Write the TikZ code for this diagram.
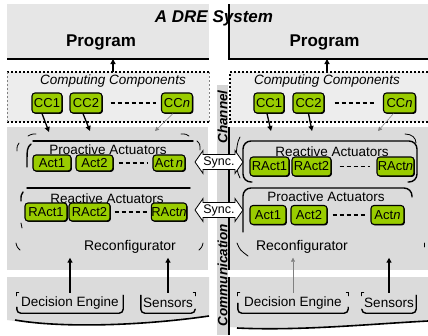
\documentclass[tikz,border=0pt]{standalone}
\usepackage{fontspec}
\setmainfont{Liberation Sans}
\usetikzlibrary{arrows.meta,shapes.arrows,shadows}
\definecolor{progfill}{HTML}{E6E6E6}
\definecolor{ccfill}{HTML}{EDEDED}
\definecolor{lowfill}{HTML}{DBDBDB}
\definecolor{boxgreen}{HTML}{99CC00}
\definecolor{chanfill}{HTML}{D6D6D6}
\newcommand\fsz[1]{\fontsize{#1}{#1}\selectfont}
\begin{document}
\begin{tikzpicture}[x=1pt,y=-1pt,
  panel/.style={anchor=north west, inner sep=0pt, outer sep=0pt, draw=none},
  gbox/.style={draw=black, line width=1.1pt, fill=boxgreen, rounded corners=3pt, inner sep=0pt, font=\fsz{13},
    drop shadow={shadow xshift=0.9pt, shadow yshift=-0.9pt, fill=black, opacity=1}},
  lbl/.style={inner sep=0pt, font=\fsz{13.5}},
  arr/.style={line width=1.3pt, -{Triangle[width=5pt,length=5pt]}},
  thinarr/.style={line width=0.5pt, draw=gray, -{Triangle[width=4pt,length=4pt]}},
  dotline/.style={line width=1.6pt, dash pattern=on 2pt off 2pt},
  thindash/.style={line width=0.5pt, draw=gray, dash pattern=on 2pt off 2pt},
  gapline/.style={line width=1.4pt, dash pattern=on 4pt off 3pt},
  frame/.style={line width=1.4pt, line cap=round},
  frag/.style={line width=0.8pt, line cap=round},
  sync/.style={double arrow, draw=black, line width=0.8pt, fill=white, double arrow tip angle=110,
    double arrow head extend=4pt, inner sep=1.5pt, minimum height=48pt, font=\fsz{12.5}},
  side/.style={rotate=90, font=\fsz{13.5}\bfseries\itshape, inner sep=0pt}
]
\useasboundingbox (0,0) rectangle (428,335);

% ---------- Program boxes
\node[panel, fill=progfill, minimum width=202pt, minimum height=55pt] (progL) at (7,4) {};
\node[panel, fill=progfill, minimum width=199pt, minimum height=55pt] (progR) at (229,4) {};
\draw[line width=1.6pt] (progL.south west) -- (progL.south east);
\draw[line width=1.6pt] (progR.north west) -- (progR.south west) -- (progR.south east);
\node[font=\fsz{17}\bfseries, inner sep=0pt] (pgL) at (101,42) {Program};
\node[font=\fsz{17}\bfseries, inner sep=0pt] (pgR) at (324.5,42) {Program};
\node[font=\fsz{17}\bfseries\itshape, inner sep=0pt] (title) at (214,18) {A DRE System};

% ---------- Computing component panels
\node[panel, fill=ccfill, minimum width=202pt, minimum height=50pt] (ccpL) at (7,72) {};
\node[panel, fill=ccfill, minimum width=198pt, minimum height=50pt] (ccpR) at (230,72) {};
\draw[dotline] (ccpL.north west) -- (ccpL.north east);
\draw[dotline] (ccpL.south west) -- (ccpL.south east);
\draw[thindash] (ccpL.north west) -- (ccpL.south west);
\draw[thindash] (ccpL.north east) -- (ccpL.south east);
\draw[dotline] (ccpR.north east) -- (ccpR.north west) -- (ccpR.south west) -- (ccpR.south east);
\node[lbl, font=\fsz{13.5}\itshape] (cctL) at (113,81) {Computing Components};
\node[lbl, font=\fsz{13.5}\itshape] (cctR) at (327,81) {Computing Components};
\draw[arr] (ccpL.north -| cctL) -- (progL.south -| cctL);
\draw[arr] (ccpR.north -| cctR) -- (progR.south -| cctR);

% ---------- lower panels
\node[panel, fill=lowfill, minimum width=201pt, minimum height=143pt] (lowL) at (7,127) {};
\node[panel, fill=lowfill, minimum width=199pt, minimum height=143pt] (lowR) at (229,127) {};
\draw[line width=1.6pt] (lowR.north west) -- (lowR.south west);

% bottom panels with wavy edge
\fill[lowfill] (7,277) -- (209,277) -- (209,316) .. controls (140,326) and (60,328) .. (7,320) -- cycle;
\draw[line width=1.6pt] (15,320) .. controls (60,328) and (140,326) .. (209,316);
\fill[lowfill] (229,277) -- (428,277) -- (428,321) .. controls (370,324) and (300,332) .. (229,327) -- cycle;
\draw[line width=1.6pt] (237,328) .. controls (300,331) and (370,324) .. (428,321);
\draw[line width=1.6pt] (229,277) -- (229,335);

% ---------- channel strip
\fill[chanfill] (217,85) rectangle (228,335);
\node[side] (chan) at (222.5,117) {Channel};
\node[side] (comm) at (222.5,275) {Communication};

% ---------- CC boxes
\node[gbox, minimum width=30pt, minimum height=20pt] (cc1L) at (47,103) {CC1};
\node[gbox, minimum width=32pt, minimum height=20pt] (cc2L) at (86,103) {CC2};
\node[gbox, minimum width=31pt, minimum height=20pt] (ccnL) at (177,103) {CC\textit{n}};
\draw[gapline] ([xshift=8pt]cc2L.east) -- ([xshift=-5pt]ccnL.west);
\node[gbox, minimum width=30pt, minimum height=20pt] (cc1R) at (269,103) {CC1};
\node[gbox, minimum width=31pt, minimum height=20pt] (cc2R) at (308.5,103) {CC2};
\node[gbox, minimum width=32pt, minimum height=20pt] (ccnR) at (399.5,103) {CC\textit{n}};
\draw[gapline] ([xshift=10pt]cc2R.east) -- ([xshift=-6.5pt]ccnR.west);

% ---------- outer frame fragments
\draw[frag] (19,143) .. controls (17,146) .. (17,151);
\draw[frag] (28,136) .. controls (32,134) .. (36,134);
\draw[frag] (181,134) .. controls (186,134) .. (189,136);
\draw[frag] (197,141) .. controls (200,144) .. (200,150);
\draw[frag] (16,243) .. controls (17,247) .. (20,250);
\draw[frag] (203,243) .. controls (202,247) .. (199,250);
\draw[frag] (240,137) .. controls (235,145) and (235,170) .. (240,178);
\draw[frag] (405,134) .. controls (412,134) and (416,138) .. (416,143);
\draw[frag] (237,243) .. controls (240,250) .. (248,256);
\draw[frag] (424,243) -- (424,247);

% ---------- left actuator groups
\draw[frame] (33,141) -- (193,141);
\draw[frame] (31,144) .. controls (27,148) .. (27,167);
\node[lbl] (proL) at (108,149.5) {Proactive Actuators};
\node[gbox, minimum width=38pt, minimum height=16pt] (act1L) at (52,163) {Act1};
\node[gbox, minimum width=37pt, minimum height=16pt] (act2L) at (94.5,163) {Act2};
\node[gbox, minimum width=32pt, minimum height=16pt] (actnL) at (169,163) {Act\,\textit{n}};
\draw[gapline] ([xshift=5pt]act2L.east) -- ([xshift=-5pt]actnL.west);

\draw[frame] (27,188) -- (190,188);
\draw[frame] (23,192) .. controls (21,195) .. (21,201);
\draw[frag] (21,223) -- (22,228);
\node[lbl] (reaL) at (107,199) {Reactive Actuators};
\node[gbox, minimum width=42pt, minimum height=18pt] (ract1L) at (46,212) {RAct1};
\node[gbox, minimum width=41pt, minimum height=18pt] (ract2L) at (89.5,212) {RAct2};
\node[gbox, minimum width=35pt, minimum height=18pt] (ractnL) at (169,212) {RAct\textit{n}};
\draw[gapline] ([xshift=4pt]ract2L.east) -- ([xshift=-4pt]ractnL.west);

% ---------- right actuator groups
\draw[frame, rounded corners=8pt] (252,182) -- (243,182) -- (243,141) -- (417,141) -- (417,182) -- (408,182);
\node[lbl] (reaR) at (332,152) {Reactive Actuators};
\node[gbox, minimum width=39pt, minimum height=19pt] (ract1R) at (269.5,166.5) {RAct1};
\node[gbox, minimum width=39pt, minimum height=19pt] (ract2R) at (311.5,166.5) {RAct2};
\node[gbox, minimum width=37pt, minimum height=19pt] (ractnR) at (395.5,166.5) {RAct\textit{n}};
\draw[gapline] ([xshift=8pt]ract2R.east) -- ([xshift=-6pt]ractnR.west);

\draw[frame, rounded corners=8pt] (243,232) -- (243,188) -- (412,188) -- (412,197);
\node[lbl] (proR) at (326,197) {Proactive Actuators};
\node[gbox, minimum width=36pt, minimum height=19pt] (act1R) at (268,215) {Act1};
\node[gbox, minimum width=36pt, minimum height=19pt] (act2R) at (309,215) {Act2};
\node[gbox, minimum width=33pt, minimum height=19pt] (actnR) at (387.5,215) {Act\textit{n}};
\draw[gapline] ([xshift=5pt]act2R.east) -- ([xshift=-4pt]actnR.west);

% ---------- CC -> actuator arrows
\coordinate (a1L) at (49,132);
\coordinate (a2L) at (90,131);
\coordinate (anL) at (155,131);
\coordinate (a1R) at (271,131);
\coordinate (a2R) at (312,131);
\coordinate (anR) at (378,131);
\draw[arr] ([xshift=-5pt]cc1L.south) -- (a1L);
\draw[arr] ([xshift=-3pt]cc2L.south) -- (a2L);
\draw[thinarr] ([xshift=-4pt]ccnL.south) -- (anL);
\draw[arr] ([xshift=-2pt]cc1R.south) -- (a1R);
\draw[arr] (cc2R.south) -- (a2R);
\draw[thinarr] ([xshift=-6pt]ccnR.south) -- (anR);

% ---------- sync arrows
\node[sync] (sync1) at (219,162) {Sync.};
\node[sync] (sync2) at (219,210) {Sync.};

% ---------- reconfigurators
\node[lbl, font=\fsz{14}] (recL) at (130,247) {Reconfigurator};
\node[lbl, font=\fsz{14}] (recR) at (302,247) {Reconfigurator};

% ---------- decision engine and sensors
\node[lbl, minimum width=106pt, minimum height=20pt] (deL) at (70,303) {Decision Engine};
\node[lbl, minimum width=54pt, minimum height=20pt] (seL) at (168,303) {Sensors};
\node[lbl, minimum width=110pt, minimum height=20pt] (deR) at (293,303) {Decision Engine};
\node[lbl, minimum width=54pt, minimum height=20pt] (seR) at (389,303) {Sensors};

\draw[frame, rounded corners=4pt] ([yshift=6pt]deL.south west) -- (deL.south west) -- (deL.south east) -- ([yshift=18pt]deL.south east);
\draw[frag] ([yshift=-3pt]deL.north west) -- (deL.north west) -- ([xshift=2pt]deL.north west);
\draw[frame, rounded corners=4pt] ([yshift=18pt]seL.south west) -- (seL.south west) -- (seL.south east) -- ([yshift=4pt]seL.south east);
\draw[frag] ([yshift=-3pt]seL.north east) -- (seL.north east) -- ([xshift=-2pt]seL.north east);
\draw[frame, rounded corners=4pt] ([yshift=10pt]deR.south west) -- (deR.south west) -- (deR.south east) -- ([yshift=6pt]deR.south east);
\draw[frag] ([yshift=-3pt]deR.north west) -- (deR.north west) -- ([xshift=2pt]deR.north west);
\draw[frag] ([yshift=-3pt]deR.north east) -- (deR.north east) -- ([xshift=-2pt]deR.north east);
\draw[frame, rounded corners=4pt] ([yshift=4pt]seR.south west) -- (seR.south west) -- (seR.south east) -- ([yshift=18pt]seR.south east);
\draw[frag] ([yshift=-3pt]seR.north west) -- (seR.north west) -- ([xshift=2pt]seR.north west);

\draw[arr] (deL.north) -- ([yshift=-4pt]deL.north |- recL.south);
\draw[arr] (seL.north) -- ([yshift=-4pt]seL.north |- recL.south);
\draw[thinarr] (deR.north) -- ([yshift=-4pt]deR.north |- recR.south);
\draw[arr] (seR.north) -- ([yshift=-4pt]seR.north |- recR.south);
\end{tikzpicture}
\end{document}
